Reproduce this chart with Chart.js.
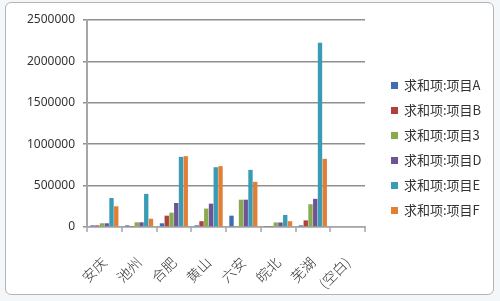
<!DOCTYPE html>
<html>
<head>
<meta charset="utf-8">
<script src="https://cdn.jsdelivr.net/npm/chart.js@4/dist/chart.umd.min.js"></script>
<style>
  html, body { margin: 0; padding: 0; background: #fff; }
  #wrap { position: relative; width: 500px; height: 301px; overflow: hidden; background: #f4f7fa; }
  #frame { position: absolute; left: 5px; top: 2px; width: 487px; height: 291px;
    border: 1px solid #b4b4b4; border-radius: 6px; background: #fff; }
  #grafico { position: absolute; left: 0; top: 0; }
  #legenda { position: absolute; left: 391px; top: 77px; font: 13px "Noto Sans CJK SC", sans-serif; color: #333; }
  #legenda div { height: 25px; line-height: 15px; white-space: nowrap; }
  #legenda span { display: inline-block; width: 7px; height: 7px; margin-right: 6px; vertical-align: 1px; }
</style>
</head>
<body>
<div id="wrap">
  <div id="frame"></div>
  <canvas id="grafico" width="500" height="301"></canvas>
  <div id="legenda"></div>
</div>
<script>
var cidades = ['安庆', '池州', '合肥', '黄山', '六安', '皖北', '芜湖', '(空白)'];
var rotulos = ['求和项:项目A', '求和项:项目B', '求和项:项目3', '求和项:项目D', '求和项:项目E', '求和项:项目F'];
var cores = ['#3f6fae', '#b0403d', '#8aab4d', '#6f5495', '#3a9bb5', '#e07f35'];

var itemA = [20000, 20000, 45000, 20000, 137000, 5000, 20000, 0];
var itemB = [20000, 5000, 137000, 70000, 10000, 5000, 80000, 0];
var item3 = [45000, 57000, 173000, 222000, 330000, 55000, 275000, 0];
var itemD = [45000, 57000, 290000, 282000, 330000, 55000, 340000, 0];
var itemE = [350000, 400000, 847000, 722000, 690000, 145000, 2225000, 0];
var itemF = [250000, 100000, 855000, 735000, 545000, 70000, 823000, 0];

var series = [itemA, itemB, item3, itemD, itemE, itemF];

var datasets = series.map(function (valores, i) {
    return {
        label: rotulos[i],
        data: valores,
        backgroundColor: cores[i],
        borderColor: cores[i],
        borderWidth: 0
    };
});

// marquinhas entre as categorias, abaixo do eixo x
var marcasX = {
    id: 'marcasX',
    afterDraw: function (chart) {
        var x = chart.scales.x, ctx = chart.ctx;
        ctx.save();
        ctx.strokeStyle = '#a6a6a6';
        ctx.lineWidth = 1.5;
        ctx.beginPath();
        for (var i = 0; i <= cidades.length; i++) {
            var px = Math.round(x.getPixelForValue(i - 0.5));
            ctx.moveTo(px, x.top);
            ctx.lineTo(px, x.top + 5);
        }
        ctx.stroke();
        ctx.restore();
    }
};

var myChart = new Chart(document.getElementById('grafico'), {
    type: 'bar',
    data: {labels: cidades, datasets: datasets},
    plugins: [marcasX],
    options: {
        responsive: false,
        animation: false,
        layout: {padding: {top: 20, right: 135, bottom: 0, left: 0}},
        categoryPercentage: 0.82,
        barPercentage: 0.92,
        plugins: {legend: {display: false}, tooltip: {enabled: false}},
        scales: {
            x: {
                afterFit: function (s) { s.height = 74; },
                border: {color: '#a6a6a6', width: 1.5},
                grid: {display: false},
                ticks: {
                    color: '#333',
                    font: {family: '"Noto Sans CJK SC"', size: 14, weight: 300},
                    maxRotation: 45, minRotation: 45, padding: 19
                }
            },
            y: {
                min: 0, max: 2500000,
                afterFit: function (s) { s.width = 87; },
                border: {color: '#a6a6a6', width: 2},
                grid: {color: '#8f8f8f', lineWidth: 1.5, tickLength: 4},
                ticks: {
                    stepSize: 500000,
                    color: '#333',
                    padding: 8,
                    font: {family: '"Noto Sans"', size: 12},
                    callback: function (v) { return String(v); }
                }
            }
        }
    }
});

var $legenda = document.getElementById('legenda');
rotulos.forEach(function (r, i) {
    $legenda.innerHTML += '<div><span style="background:' + cores[i] + '"></span>' + r + '</div>';
});
</script>
</body>
</html>
